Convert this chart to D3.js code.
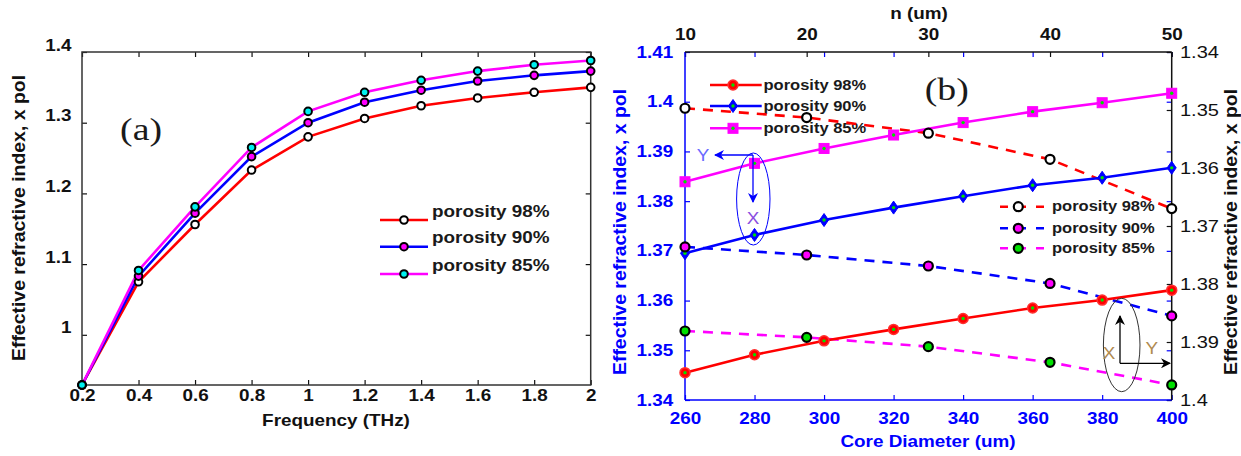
<!DOCTYPE html>
<meta charset="utf-8">
<style>
body { margin: 0; background: #fff; }
svg text { font-family: "Liberation Sans", Arial, sans-serif; }
</style>
<svg width="1241" height="456"></svg>
<script src="https://d3js.org/d3.v7.min.js"></script>
<script>

// ---- panel (a) data ----
var freq = [0.2, 0.4, 0.6, 0.8, 1.0, 1.2, 1.4, 1.6, 1.8, 2.0];
var a98 = [0.929, 1.075, 1.156, 1.233, 1.280, 1.306, 1.324, 1.335, 1.343, 1.350];
var a90 = [0.929, 1.083, 1.172, 1.252, 1.300, 1.329, 1.346, 1.359, 1.367, 1.373];
var a85 = [0.929, 1.091, 1.181, 1.265, 1.316, 1.343, 1.360, 1.373, 1.382, 1.388];
var freqTicks = [0.2, 0.4, 0.6, 0.8, 1, 1.2, 1.4, 1.6, 1.8, 2];
var yTicksA = [1, 1.1, 1.2, 1.3, 1.4];

// ---- panel (b) data ----
var coreD = [260, 280, 300, 320, 340, 360, 380, 400];
var b98 = [1.3455, 1.3491, 1.3519, 1.3542, 1.3564, 1.3585, 1.3601, 1.3621];
var b90 = [1.3695, 1.3732, 1.3762, 1.3787, 1.3810, 1.3832, 1.3847, 1.3867];
var b85 = [1.3839, 1.3876, 1.3906, 1.3933, 1.3958, 1.3980, 1.3998, 1.4017];
var nLen = [10, 20, 30, 40, 50];
var n98 = [1.3497, 1.3513, 1.3540, 1.3585, 1.3670];
var n90 = [1.3736, 1.3750, 1.3769, 1.3799, 1.3855];
var n85 = [1.3881, 1.3892, 1.3908, 1.3935, 1.3974];
var coreTicks = [260, 280, 300, 320, 340, 360, 380, 400];
var yTicksB = [1.34, 1.35, 1.36, 1.37, 1.38, 1.39, 1.40, 1.41];
var nTicks = [10, 20, 30, 40, 50];
var yTicksR = [1.34, 1.35, 1.36, 1.37, 1.38, 1.39, 1.40];
var legendLabels = ["porosity 98%", "porosity 90%", "porosity 85%"];

var svg = d3.select("svg");
var SX = "scale(1.18,1)";
var SY = "rotate(-90) scale(1.08,1)";
var BLUE = "#0000ff", RED = "#ff0000", MAG = "#ff00ff", CYAN = "#00f0f0", GREEN = "#00e000";

function fmt(d) { return String(+d.toFixed(2)); }

function styleAxis(g, color, weight, size) {
  g.select(".domain").remove();
  g.selectAll("line").attr("stroke", color).attr("stroke-width", 1.2);
  g.selectAll("text")
    .attr("fill", color)
    .attr("font-weight", weight)
    .attr("font-size", size)
    .attr("font-family", "Liberation Sans, Arial, sans-serif")
    .attr("transform", SX);
}

var defs = svg.append("defs");
function arrowHead(id, color) {
  defs.append("marker")
      .attr("id", id)
      .attr("viewBox", "0 0 10 10")
      .attr("refX", 9).attr("refY", 5)
      .attr("markerUnits", "userSpaceOnUse")
      .attr("markerWidth", 13).attr("markerHeight", 10)
      .attr("orient", "auto")
    .append("path")
      .attr("d", "M0,0 L10,5 L0,10 L3,5 z")
      .attr("fill", color);
}
arrowHead("arrBlue", BLUE);
arrowHead("arrBlack", "#000");

// ================= panel (a) =================
var xA = d3.scaleLinear().domain([0.2, 2]).range([82, 590.7]);
var yA = d3.scaleLinear().domain([0.929, 1.4]).range([385, 52]);
var gA = svg.append("g");

gA.append("g").attr("transform", "translate(0,385)")
    .call(d3.axisBottom(xA).tickValues(freqTicks).tickFormat(fmt).tickSizeInner(-5).tickSizeOuter(0).tickPadding(5))
    .call(styleAxis, "#111", "bold", 16);
gA.append("g").attr("transform", "translate(0,52)")
    .call(d3.axisTop(xA).tickValues(freqTicks).tickFormat("").tickSizeInner(-5).tickSizeOuter(0))
    .call(styleAxis, "#111", "bold", 16);
gA.append("g").attr("transform", "translate(82,0)")
    .call(d3.axisLeft(yA).tickValues(yTicksA).tickFormat(fmt).tickSizeInner(-5).tickSizeOuter(0).tickPadding(9))
    .call(styleAxis, "#111", "bold", 16)
    .selectAll("text").attr("y", -7);
gA.append("g").attr("transform", "translate(590.7,0)")
    .call(d3.axisRight(yA).tickValues(yTicksA).tickFormat("").tickSizeInner(-5).tickSizeOuter(0))
    .call(styleAxis, "#111", "bold", 16);

gA.append("rect")
    .attr("x", 82).attr("y", 52).attr("width", 508.7).attr("height", 333)
    .attr("fill", "none").attr("stroke", "#333").attr("stroke-width", 1.5);

var seriesA = [
  {vals: a98, line: RED, fill: "#fff"},
  {vals: a90, line: BLUE, fill: MAG},
  {vals: a85, line: MAG, fill: CYAN}
];
var lineA = d3.line().x(function(d, i) { return xA(freq[i]); }).y(function(d) { return yA(d); });
seriesA.forEach(function(s) {
  gA.append("path").datum(s.vals)
      .attr("d", lineA).attr("fill", "none")
      .attr("stroke", s.line).attr("stroke-width", 2.6);
});
seriesA.forEach(function(s) {
  gA.append("g").selectAll("circle").data(s.vals).enter().append("circle")
      .attr("cx", function(d, i) { return xA(freq[i]); })
      .attr("cy", function(d) { return yA(d); })
      .attr("r", 3.8)
      .attr("fill", s.fill).attr("stroke", "#000").attr("stroke-width", 2);
});

// legend (a)
var legA = gA.append("g");
[220, 246.7, 274].forEach(function(y, i) {
  legA.append("line").attr("x1", 380).attr("x2", 428).attr("y1", y).attr("y2", y)
      .attr("stroke", seriesA[i].line).attr("stroke-width", 2.6);
  legA.append("circle").attr("cx", 404).attr("cy", y).attr("r", 3.8)
      .attr("fill", seriesA[i].fill).attr("stroke", "#000").attr("stroke-width", 2);
  legA.append("text").attr("transform", "translate(432," + (y - 3.5) + ") " + SX)
      .attr("font-size", 16).attr("font-weight", "bold").attr("fill", "#1a1a1a")
      .text(legendLabels[i]);
});

gA.append("text").attr("transform", "translate(336,426) " + SX)
    .attr("text-anchor", "middle").attr("font-size", 16).attr("font-weight", "bold").attr("fill", "#111")
    .text("Frequency (THz)");
gA.append("text").attr("transform", "translate(25,218) " + SY)
    .attr("text-anchor", "middle").attr("font-size", 18).attr("font-weight", "bold").attr("fill", "#111")
    .text("Effective refractive index, x pol");
gA.append("text").attr("transform", "translate(141,140) " + SX)
    .attr("text-anchor", "middle").attr("font-size", 32).attr("fill", "#1a1a1a")
    .style("font-family", "Liberation Serif, Times New Roman, serif")
    .text("(a)");

// ================= panel (b) =================
var L = 685, R = 1171.7, T = 52, B = 400;
var xB = d3.scaleLinear().domain([260, 400]).range([L, R]);
var yB = d3.scaleLinear().domain([1.34, 1.41]).range([B, T]);
var xT = d3.scaleLinear().domain([10, 50]).range([L, R]);
var yR = d3.scaleLinear().domain([1.34, 1.40]).range([T, B]);
var gB = svg.append("g");

// axes
gB.append("g").attr("transform", "translate(0," + B + ")")
    .call(d3.axisBottom(xB).tickValues(coreTicks).tickFormat(fmt).tickSizeInner(-5).tickSizeOuter(0).tickPadding(13))
    .call(styleAxis, BLUE, "bold", 16);
gB.append("g").attr("transform", "translate(0," + T + ")")
    .call(d3.axisTop(xB).tickValues(coreTicks).tickFormat("").tickSizeInner(-5).tickSizeOuter(0))
    .call(styleAxis, BLUE, "bold", 16);
gB.append("g").attr("transform", "translate(0," + T + ")")
    .call(d3.axisTop(xT).tickValues(nTicks).tickFormat(fmt).tickSizeInner(-5).tickSizeOuter(0).tickPadding(12))
    .call(styleAxis, "#111", "bold", 16);
gB.append("g").attr("transform", "translate(" + L + ",0)")
    .call(d3.axisLeft(yB).tickValues(yTicksB).tickFormat(fmt).tickSizeInner(-5).tickSizeOuter(0).tickPadding(10))
    .call(styleAxis, BLUE, "bold", 16);
gB.append("g").attr("transform", "translate(" + R + ",0)")
    .call(d3.axisRight(yB).tickValues(yTicksB).tickFormat("").tickSizeInner(-5).tickSizeOuter(0))
    .call(styleAxis, BLUE, "bold", 16);
gB.append("g").attr("transform", "translate(" + R + ",0)")
    .call(d3.axisRight(yR).tickValues(yTicksR).tickFormat(fmt).tickSizeInner(-5).tickSizeOuter(0).tickPadding(7))
    .call(styleAxis, "#111", "normal", 17);

// frame
gB.append("line").attr("x1", L).attr("x2", L).attr("y1", T).attr("y2", B).attr("stroke", BLUE).attr("stroke-width", 1.5);
gB.append("line").attr("x1", L).attr("x2", R).attr("y1", B).attr("y2", B).attr("stroke", BLUE).attr("stroke-width", 1.5);
gB.append("line").attr("x1", L).attr("x2", R).attr("y1", T).attr("y2", T).attr("stroke", "#111").attr("stroke-width", 1.5);
gB.append("line").attr("x1", R).attr("x2", R).attr("y1", T).attr("y2", B).attr("stroke", "#111").attr("stroke-width", 1.5);

// marker shapes for solid series
function drawShape(g, shape, x, y, color) {
  if (shape === "circle") {
    g.append("circle").attr("cx", x).attr("cy", y).attr("r", 5)
        .attr("fill", color).attr("stroke", "#ff3030").attr("stroke-width", 1.5);
  } else if (shape === "diamond") {
    g.append("path").attr("d", "M" + x + "," + (y - 6.5) + " L" + (x + 4.5) + "," + y + " L" + x + "," + (y + 6.5) + " L" + (x - 4.5) + "," + y + " Z")
        .attr("fill", color).attr("stroke", color).attr("stroke-width", 1);
  } else {
    g.append("rect").attr("x", x - 5).attr("y", y - 5).attr("width", 10).attr("height", 10)
        .attr("fill", color).attr("stroke", color).attr("stroke-width", 1);
  }
  g.append("circle").attr("cx", x).attr("cy", y).attr("r", 1.7).attr("fill", GREEN);
}

var solidB = [
  {vals: b98, color: RED, shape: "circle"},
  {vals: b90, color: BLUE, shape: "diamond"},
  {vals: b85, color: MAG, shape: "square"}
];
var dashB = [
  {vals: n98, color: RED, fill: "#fff"},
  {vals: n90, color: BLUE, fill: MAG},
  {vals: n85, color: MAG, fill: GREEN}
];

// legends (drawn beneath the data)
var legB1 = gB.append("g");
[85, 106, 128.3].forEach(function(y, i) {
  legB1.append("line").attr("x1", 710).attr("x2", 761.7).attr("y1", y).attr("y2", y)
      .attr("stroke", solidB[i].color).attr("stroke-width", 2.6);
  drawShape(legB1, solidB[i].shape, 733, y, solidB[i].color);
  legB1.append("text").attr("transform", "translate(763.5," + (y + 5) + ") " + SX)
      .attr("font-size", 14).attr("font-weight", "bold").attr("fill", "#1a1a1a")
      .text(legendLabels[i]);
});
var legB2 = gB.append("g");
[206.7, 228.3, 248.3].forEach(function(y, i) {
  legB2.append("line").attr("x1", 1000).attr("x2", 1050).attr("y1", y).attr("y2", y)
      .attr("stroke", dashB[i].color).attr("stroke-width", 2.6).attr("stroke-dasharray", "8,10");
  legB2.append("circle").attr("cx", 1018.3).attr("cy", y).attr("r", 4.5)
      .attr("fill", dashB[i].fill).attr("stroke", "#000").attr("stroke-width", 2.2);
  legB2.append("text").attr("transform", "translate(1052," + (y + 4.5) + ") " + SX)
      .attr("font-size", 14).attr("font-weight", "bold").attr("fill", "#1a1a1a")
      .text(legendLabels[i]);
});

// dashed series (top / right axes)
var lineN = d3.line().x(function(d, i) { return xT(nLen[i]); }).y(function(d) { return yR(d); });
dashB.forEach(function(s) {
  gB.append("path").datum(s.vals).attr("d", lineN).attr("fill", "none")
      .attr("stroke", s.color).attr("stroke-width", 2.6).attr("stroke-dasharray", "10,8");
});
// solid series (bottom / left axes)
var lineB = d3.line().x(function(d, i) { return xB(coreD[i]); }).y(function(d) { return yB(d); });
solidB.forEach(function(s) {
  gB.append("path").datum(s.vals).attr("d", lineB).attr("fill", "none")
      .attr("stroke", s.color).attr("stroke-width", 2.6);
});
solidB.forEach(function(s) {
  var g = gB.append("g");
  s.vals.forEach(function(d, i) { drawShape(g, s.shape, xB(coreD[i]), yB(d), s.color); });
});
dashB.forEach(function(s) {
  gB.append("g").selectAll("circle").data(s.vals).enter().append("circle")
      .attr("cx", function(d, i) { return xT(nLen[i]); })
      .attr("cy", function(d) { return yR(d); })
      .attr("r", 4.5)
      .attr("fill", s.fill).attr("stroke", "#000").attr("stroke-width", 2.2);
});

// annotations
gB.append("ellipse").attr("cx", 753.3).attr("cy", 199).attr("rx", 16.7).attr("ry", 46)
    .attr("fill", "none").attr("stroke", BLUE).attr("stroke-width", 1);
gB.append("line").attr("x1", 753).attr("y1", 155).attr("x2", 715).attr("y2", 155)
    .attr("stroke", BLUE).attr("stroke-width", 1.3).attr("marker-end", "url(#arrBlue)");
gB.append("line").attr("x1", 753).attr("y1", 155).attr("x2", 753).attr("y2", 202)
    .attr("stroke", BLUE).attr("stroke-width", 1.3).attr("marker-end", "url(#arrBlue)");
gB.append("text").attr("transform", "translate(703,161) " + SX).attr("text-anchor", "middle")
    .attr("font-size", 16).attr("fill", "#6a6aff").text("Y");
gB.append("text").attr("transform", "translate(753,224) " + SX).attr("text-anchor", "middle")
    .attr("font-size", 16).attr("fill", "#8a4ee0").text("X");

gB.append("ellipse").attr("cx", 1121.7).attr("cy", 345).attr("rx", 18.3).attr("ry", 46.7)
    .attr("fill", "none").attr("stroke", "#333").attr("stroke-width", 1);
gB.append("line").attr("x1", 1120).attr("y1", 363.3).attr("x2", 1120).attr("y2", 316)
    .attr("stroke", "#000").attr("stroke-width", 1.3).attr("marker-end", "url(#arrBlack)");
gB.append("line").attr("x1", 1120).attr("y1", 363.3).attr("x2", 1170).attr("y2", 363.3)
    .attr("stroke", "#000").attr("stroke-width", 1.3).attr("marker-end", "url(#arrBlack)");
gB.append("text").attr("transform", "translate(1109,359) " + SX).attr("text-anchor", "middle")
    .attr("font-size", 16).attr("fill", "#b08a50").text("X");
gB.append("text").attr("transform", "translate(1151.7,354) " + SX).attr("text-anchor", "middle")
    .attr("font-size", 16).attr("fill", "#b08a50").text("Y");

// titles
gB.append("text").attr("transform", "translate(919,19) " + SX)
    .attr("text-anchor", "middle").attr("font-size", 16).attr("font-weight", "bold").attr("fill", "#111")
    .text("n (um)");
gB.append("text").attr("transform", "translate(928,447) " + SX)
    .attr("text-anchor", "middle").attr("font-size", 16).attr("font-weight", "bold").attr("fill", BLUE)
    .text("Core Diameter (um)");
gB.append("text").attr("transform", "translate(626,232) " + SY)
    .attr("text-anchor", "middle").attr("font-size", 18).attr("font-weight", "bold").attr("fill", BLUE)
    .text("Effective refractive index, x pol");
gB.append("text").attr("transform", "translate(1237,232) " + SY)
    .attr("text-anchor", "middle").attr("font-size", 18).attr("font-weight", "bold").attr("fill", "#111")
    .text("Effective refractive index, x pol");
gB.append("text").attr("transform", "translate(946.7,100) " + SX)
    .attr("text-anchor", "middle").attr("font-size", 32).attr("fill", "#1a1a1a")
    .style("font-family", "Liberation Serif, Times New Roman, serif")
    .text("(b)");

</script>
